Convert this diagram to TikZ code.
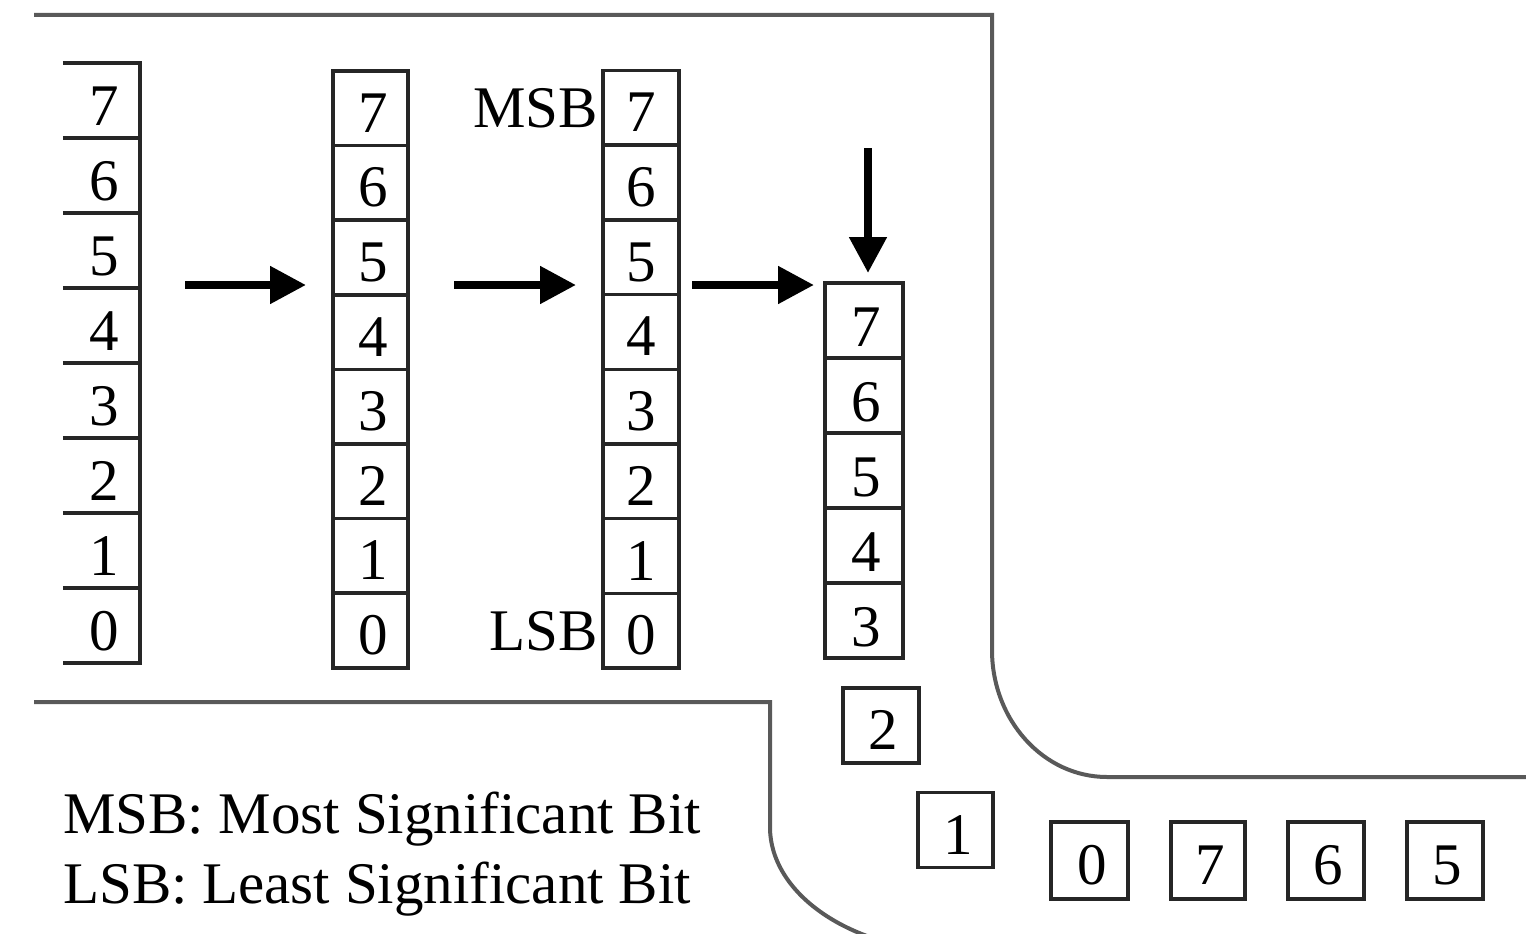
\documentclass[tikz,border=0pt]{standalone}
\usepackage{fontspec}
\setmainfont{Liberation Serif}
\usetikzlibrary{arrows.meta}
\newcommand{\bitdigit}[2]{\raisebox{#1}{\hspace{5pt}#2}}
\begin{document}
\begin{tikzpicture}[x=1pt,y=-1pt,
  every node/.style={font=\fontsize{59}{70}\selectfont, inner sep=0pt, text height=40pt, text depth=0pt},
  cellbox/.style={draw=black!85, line width=3.5pt, minimum width=75pt, minimum height=75pt},
  barecell/.style={minimum width=77pt, minimum height=75pt},
  bitline/.style={draw=black!85, line width=3.5pt},
  border/.style={draw=black!65, line width=4pt},
  bigarrow/.style={line width=8pt, -{Triangle[length=36pt,width=36pt]}},
  lbl/.style={text height=, text depth=}
]
\useasboundingbox (0,0) rectangle (1526,934);
\clip (0,0) rectangle (1526,934);

% column 1 (open on the left)
\foreach \b [count=\k from 0] in {7,6,5,4,3,2,1,0}
  \node[barecell] (a\b) at (101.5,{100.5+75*\k}) {\bitdigit{-5pt}{\b}};
\draw[bitline] (a7.north west) -- (a7.north east) -- (a0.south east) -- (a0.south west);
\foreach \b in {7,6,5,4,3,2,1}
  \draw[bitline] (a\b.south west) -- (a\b.south east);

% column 2
\foreach \b [count=\k from 0] in {7,6,5,4,3,2,1,0}
  \node[cellbox, minimum height=74.6pt] (b\b) at (370.5,{108.3+74.6*\k}) {\bitdigit{-4pt}{\b}};

% column 3
\foreach \b [count=\k from 0] in {7,6,5,4,3,2,1,0}
  \node[cellbox, minimum height=74.7pt, minimum width=76pt] (c\b) at (641,{107.85+74.7*\k}) {\raisebox{-4pt}{\b}};

% column 4
\foreach \b [count=\k from 0] in {7,6,5,4,3}
  \node[cellbox, minimum width=78pt] (d\b) at (864,{320.5+75*\k}) {\bitdigit{-6pt}{\b}};

% loose bits
\node[cellbox, minimum width=76pt] (e2) at (881,725.5) {\bitdigit{-4pt}{2}};
\node[cellbox] (e1) at (955.5,830) {\bitdigit{-4pt}{1}};
\node[cellbox, minimum width=77pt, minimum height=77pt] (f0) at (1089.5,860.5) {\bitdigit{-4pt}{0}};
\node[cellbox, minimum width=74pt, minimum height=77pt] (f7) at (1208,860.5) {\bitdigit{-4pt}{7}};
\node[cellbox, minimum width=76pt, minimum height=77pt] (f6) at (1326,860.5) {\bitdigit{-4pt}{6}};
\node[cellbox, minimum width=76pt, minimum height=77pt] (f5) at (1445,860.5) {\bitdigit{-4pt}{5}};

% MSB / LSB labels
\node[anchor=east, xshift=-3pt] (msb) at (c7.west) {MSB};
\node[anchor=east, xshift=-3pt] (lsb) at (c0.west) {LSB};

% legend
\node[lbl, anchor=base west] (leg1) at (63,833) {MSB: Most Significant Bit};
\node[lbl, anchor=base west] (leg2) at (63,903) {LSB: Least Significant Bit};

% arrows
\coordinate (p1s) at (185,285); \coordinate (p1e) at (306,285);
\coordinate (p2s) at (454,285); \coordinate (p2e) at (576,285);
\coordinate (p3s) at (692,285); \coordinate (p3e) at (814,285);
\coordinate (p4s) at (868,148); \coordinate (p4e) at (868,273);
\draw[bigarrow] (p1s) -- (p1e);
\draw[bigarrow] (p2s) -- (p2e);
\draw[bigarrow] (p3s) -- (p3e);
\draw[bigarrow] (p4s) -- (p4e);

% region borders
\coordinate (t0) at (34,15); \coordinate (t1) at (992,15); \coordinate (t2) at (992,650);
\draw[border] (t0) -- (t1) -- (t2) arc[start angle=180, end angle=270, x radius=115pt, y radius=127pt] -- (1530,777);
\coordinate (u0) at (34,702); \coordinate (u1) at (770,702); \coordinate (u2) at (770,827);
\draw[border] (u0) -- (u1) -- (u2) arc[start angle=180, end angle=270, x radius=190pt, y radius=125pt];
\end{tikzpicture}
\end{document}
